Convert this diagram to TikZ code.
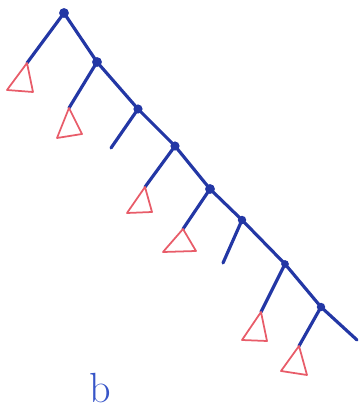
\documentclass[tikz,border=0pt]{standalone}
\definecolor{penna}{RGB}{35,55,165}
\definecolor{pennachiara}{RGB}{55,85,200}
\definecolor{rosso}{RGB}{232,92,105}
\begin{document}
\begin{tikzpicture}[
    ramo/.style={line width=1.8pt, penna, line cap=round, line join=round},
    sotto/.style={line width=1pt, rosso, line join=round}]

  \useasboundingbox (0,0) rectangle (7.2,8.22);

  % --- nodi della spina ---
  \fill[penna] (1.28, 7.96) circle (2.8pt) coordinate (n1);
  \fill[penna] (1.94, 6.98) circle (2.8pt) coordinate (n2);
  \fill[penna] (2.76, 6.04) circle (2.6pt) coordinate (n3);
  \fill[penna] (3.50, 5.30) circle (2.6pt) coordinate (n4);
  \fill[penna] (4.20, 4.44) circle (2.8pt) coordinate (n5);
  \fill[penna] (4.84, 3.82) circle (2.4pt) coordinate (n6);
  \fill[penna] (5.70, 2.94) circle (2.2pt) coordinate (n7);
  \fill[penna] (6.42, 2.08) circle (2.4pt) coordinate (n8);
  \coordinate (fine) at (7.14, 1.42);

  % --- spina ---
  \draw[ramo] (n1) -- (n2) -- (n3) -- (n4) -- (n5) -- (n6) -- (n7) -- (n8) -- (fine);

  % --- figli sinistri ---
  \coordinate (f1) at (0.54, 6.96);
  \coordinate (f2) at (1.38, 6.06);
  \coordinate (f3) at (2.22, 5.26);
  \coordinate (f4) at (2.90, 4.48);
  \coordinate (f5) at (3.66, 3.64);
  \coordinate (f6) at (4.46, 2.96);
  \coordinate (f7) at (5.22, 1.98);
  \coordinate (f8) at (5.98, 1.30);
  \draw[ramo] (n1) -- (f1);
  \draw[ramo] (n2) -- (f2);
  \draw[ramo] (n3) -- (f3);
  \draw[ramo] (n4) -- (f4);
  \draw[ramo] (n5) -- (f5);
  \draw[ramo] (n6) -- (f6);
  \draw[ramo] (n7) -- (f7);
  \draw[ramo] (n8) -- (f8);

  % --- sottoalberi (triangoli) ---
  \draw[sotto] (f1) -- ++(-0.40, -0.54) -- ++(0.52, -0.04) -- cycle;
  \draw[sotto] (f2) -- ++(-0.24, -0.60) -- ++(0.50,  0.08) -- cycle;
  \draw[sotto] (f4) -- ++(-0.36, -0.52) -- ++(0.50,  0.02) -- cycle;
  \draw[sotto] (f5) -- ++(-0.40, -0.46) -- ++(0.66,  0.02) -- cycle;
  \draw[sotto] (f7) -- ++(-0.38, -0.56) -- ++(0.50, -0.02) -- cycle;
  \draw[sotto] (f8) -- ++(-0.36, -0.50) -- ++(0.52, -0.08) -- cycle;

  % --- etichetta ---
  \node[pennachiara, font=\fontsize{24}{24}\selectfont] (etich) at (2.0, 0.46) {b};

\end{tikzpicture}
\end{document}
